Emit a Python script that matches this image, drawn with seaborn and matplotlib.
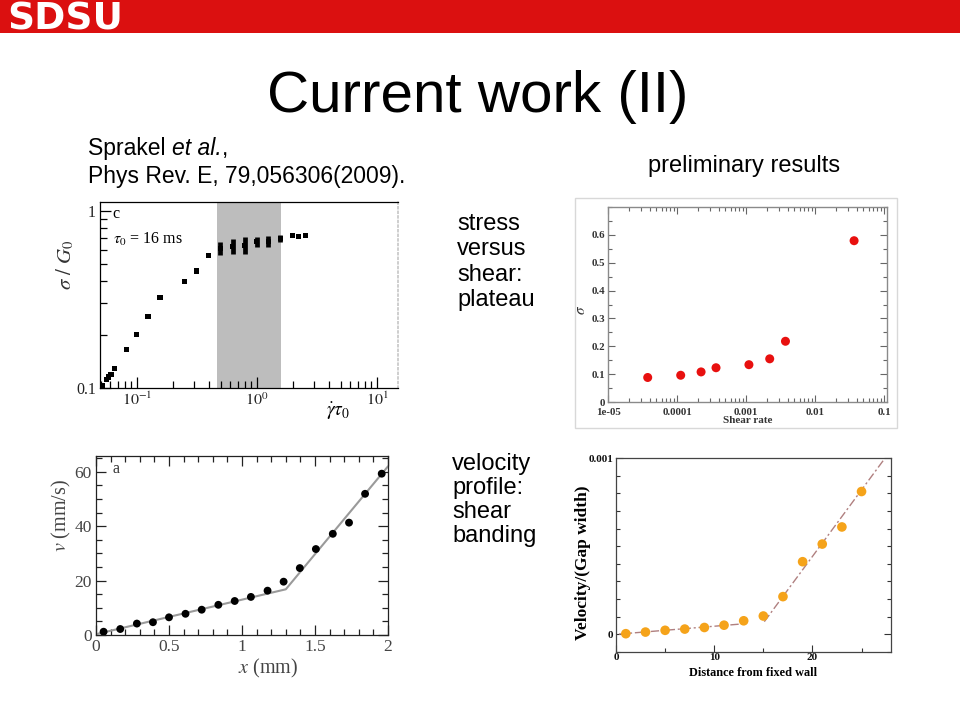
import numpy as np
import pandas as pd
import seaborn as sns
import matplotlib.pyplot as plt
from matplotlib.patches import Rectangle
from matplotlib.ticker import MultipleLocator, FixedLocator, FixedFormatter, FuncFormatter, LogLocator, NullFormatter

# -------------------------
# DATA
# -------------------------
# top-left: Sprakel et al. flow curve
rate_tau = [0.0517, 0.0562, 0.0585, 0.0611, 0.0656, 0.0826, 0.100, 0.124, 0.156, 0.251, 0.316, 0.396,
            0.498, 0.631, 0.794, 1.00, 1.25, 1.575, 1.98, 2.24, 2.53]
stress_g0 = [0.1026, 0.1115, 0.1154, 0.119, 0.1286, 0.165, 0.200, 0.252, 0.323, 0.398, 0.457, 0.558,
             0.612, 0.631, 0.637, 0.668, 0.673, 0.700, 0.722, 0.713, 0.725]
bar_rate = [0.498, 0.631, 0.794, 1.00, 1.25, 1.575]
bar_lo = [0.563, 0.573, 0.571, 0.628, 0.628, 0.667]
bar_hi = [0.662, 0.694, 0.710, 0.710, 0.722, 0.731]
band_lo, band_hi = 0.47, 1.6

# top-right: preliminary stress vs shear rate
shear_rate = [3.76e-5, 1.13e-4, 2.23e-4, 3.67e-4, 1.1e-3, 2.2e-3, 3.72e-3, 0.0367]
sigma = [0.088, 0.096, 0.108, 0.123, 0.134, 0.155, 0.218, 0.579]
sr_ticks = [1e-5, 1e-4, 1e-3, 1e-2, 1e-1]
sr_labels = ["1e-05", "0.0001", "0.001", "0.01", "0.1"]

# bottom-left: Sprakel et al. velocity profile
x_mm = [0.052, 0.166, 0.28, 0.39, 0.5, 0.613, 0.724, 0.838, 0.95, 1.061, 1.175, 1.285,
        1.396, 1.506, 1.622, 1.733, 1.843, 1.957]
v_mm = [1.2, 2.2, 4.2, 4.7, 6.5, 7.8, 9.3, 11.1, 12.5, 14.0, 16.3, 19.6,
        24.6, 31.6, 37.2, 41.3, 51.9, 59.3]
fit_x = [0, 1.3, 2.0]
fit_v = [0.3, 16.8, 62.0]

# bottom-right: preliminary velocity profile
dist = [1, 3, 5, 7, 9, 11, 13, 15, 17, 19, 21, 23, 25]
vel_gap = [3.8e-6, 1.3e-5, 2.3e-5, 3.0e-5, 3.9e-5, 5.2e-5, 7.7e-5, 1.04e-4, 2.14e-4, 4.12e-4,
           5.12e-4, 6.09e-4, 8.1e-4]
slow_x = [0.3, 12.8]
slow_v = [1.5e-6, 5.9e-5]
fast_x = [15.1, 27.4]
fast_v = [7.2e-5, 1.0e-3]

# -------------------------
# STYLE
# -------------------------
sns.set_theme(style="ticks")
plt.rcParams['font.family'] = ['Liberation Sans', 'DejaVu Sans']
plt.rcParams['mathtext.fontset'] = 'stix'
plt.rcParams['text.color'] = 'black'
plt.rcParams['axes.labelcolor'] = 'black'
plt.rcParams['xtick.color'] = 'black'
plt.rcParams['ytick.color'] = 'black'
SERIF = 'Liberation Serif'

fig = plt.figure(figsize=(9.6, 7.2), dpi=100)
fig.patch.set_facecolor('white')


def box(l, t, r, b):
    return [l / 960, 1 - b / 720, (r - l) / 960, (b - t) / 720]


def fx(x):
    return x / 960


def fy(y):
    return 1 - y / 720


def style_labels(ax, size, color='#222222', weight='normal'):
    for t in ax.get_xticklabels() + ax.get_yticklabels():
        t.set_fontfamily(SERIF)
        t.set_fontsize(size)
        t.set_color(color)
        t.set_fontweight(weight)


# -------------------------
# HEADER
# -------------------------
fig.add_artist(Rectangle((0, fy(33)), 1, 33 / 720, transform=fig.transFigure,
                         color='#db1010', lw=0))
fig.text(fx(7), fy(30), "SDSU", color='white', fontsize=27, fontweight='heavy',
         family='DejaVu Sans', va='baseline')
fig.text(fx(478), fy(112), "Current work (II)", fontsize=42, ha='center', va='baseline')

t1 = fig.text(fx(88), fy(155), "Sprakel ", fontsize=16.5, va='baseline')
fig.canvas.draw()
bb = t1.get_window_extent()
t2 = fig.text(bb.x1 / 960, fy(155), "et al.", fontsize=16.5, style='italic', va='baseline')
fig.canvas.draw()
fig.text(t2.get_window_extent().x1 / 960, fy(155), ",", fontsize=16.5, va='baseline')
fig.text(fx(88), fy(183), "Phys Rev. E, 79,056306(2009).", fontsize=16.5, va='baseline')

fig.text(fx(744), fy(172), "preliminary results", fontsize=17, ha='center', va='baseline')
fig.text(fx(457), fy(213), "stress\nversus\nshear:\nplateau", fontsize=17, va='top',
         linespacing=1.2)
fig.text(fx(452), fy(453), "velocity\nprofile:\nshear\nbanding", fontsize=17, va='top',
         linespacing=1.12)

# -------------------------
# TOP-LEFT: flow curve (Sprakel)
# -------------------------
ax1 = fig.add_axes(box(100, 202, 398, 388))
ax1.set_xscale('log')
ax1.set_yscale('log')
ax1.axvspan(band_lo, band_hi, color='#bdbdbd', lw=0, zorder=0)
sns.scatterplot(x=rate_tau, y=stress_g0, marker='s', s=14, color='black', edgecolor='none',
                ax=ax1, zorder=3)
ax1.vlines(bar_rate, bar_lo, bar_hi, color='black', lw=3.4, zorder=4)
ax1.set_xlim(0.0494, 15)
ax1.set_ylim(0.1, 1.12)
ax1.set_xticks([0.1, 1, 10])
ax1.set_xticklabels([r'$10^{-1}$', r'$10^{0}$', r'$10^{1}$'])
ax1.xaxis.set_minor_locator(LogLocator(base=10, subs=np.arange(2, 10)))
ax1.xaxis.set_minor_formatter(NullFormatter())
ax1.set_yticks([0.1, 1])
ax1.set_yticklabels(['0.1', '1'])
ax1.yaxis.set_minor_locator(LogLocator(base=10, subs=np.arange(2, 10)))
ax1.yaxis.set_minor_formatter(NullFormatter())
ax1.tick_params(which='both', direction='in', top=False, right=False, color='black', width=0.9)
ax1.tick_params(which='major', length=8, pad=3)
ax1.tick_params(which='minor', length=5)
style_labels(ax1, 11.5)
for s in ['left', 'bottom', 'top']:
    ax1.spines[s].set_color('black')
    ax1.spines[s].set_linewidth(0.9)
ax1.spines['right'].set_color('#c8c8c8')
ax1.spines['right'].set_linestyle(':')
ax1.set_xlabel(r'$\dot{\gamma}\tau_0$', fontsize=14)
ax1.xaxis.set_label_coords(0.8, -0.07)
ax1.set_ylabel(r'$\sigma\ /\ G_0$', fontsize=15, color='#333333')
ax1.yaxis.set_label_coords(-0.08, 0.66)
ax1.text(0.04, 0.914, 'c', transform=ax1.transAxes, family=SERIF, fontsize=11.5)
ax1.text(0.045, 0.774, r'$\tau_0$ = 16 ms', transform=ax1.transAxes, family=SERIF, fontsize=11.5)

# -------------------------
# TOP-RIGHT: preliminary stress vs shear rate
# -------------------------
fig.add_artist(Rectangle((fx(575), fy(428)), 322 / 960, 230 / 720, transform=fig.transFigure,
                         fill=False, edgecolor='#d8d8d8', lw=1))
ax2 = fig.add_axes(box(608, 207, 887, 402))
ax2.set_xscale('log')
sns.scatterplot(x=shear_rate, y=sigma, color='#e8100f', s=42, edgecolor='none', ax=ax2)
ax2.set_xlim(1e-5, 0.11)
ax2.set_ylim(0, 0.7)
ax2.set_xticks(sr_ticks)
ax2.set_xticklabels(sr_labels)
ax2.xaxis.set_minor_locator(LogLocator(base=10, subs=np.arange(2, 10)))
ax2.xaxis.set_minor_formatter(NullFormatter())
ax2.yaxis.set_major_locator(FixedLocator([0, 0.1, 0.2, 0.3, 0.4, 0.5, 0.6]))
ax2.yaxis.set_major_formatter(FixedFormatter(['0', '0.1', '0.2', '0.3', '0.4', '0.5', '0.6']))
ax2.yaxis.set_minor_locator(MultipleLocator(0.05))
ax2.tick_params(which='both', direction='in', top=True, right=True, color='#666666', width=0.8)
ax2.tick_params(which='major', length=5)
ax2.tick_params(which='minor', length=3)
ax2.tick_params(axis='x', pad=4)
ax2.tick_params(axis='y', pad=2)
style_labels(ax2, 7.8, color='#333333', weight='bold')
for s in ax2.spines.values():
    s.set_color('#8a8a8a')
    s.set_linewidth(1)
ax2.set_xlabel('Shear rate', fontsize=8, family=SERIF, fontweight='bold', color='#333333')
ax2.xaxis.set_label_coords(0.5, -0.07)
ax2.set_ylabel(r'$\sigma$', fontsize=11, color='#333333', rotation=90)
ax2.yaxis.set_label_coords(-0.07, 0.47)

# -------------------------
# BOTTOM-LEFT: velocity profile (Sprakel)
# -------------------------
ax3 = fig.add_axes(box(96, 456, 388, 635))
sns.lineplot(x=fit_x, y=fit_v, color='#9a9a9a', lw=1.5, ax=ax3, zorder=2)
sns.scatterplot(x=x_mm, y=v_mm, color='black', s=32, edgecolor='none', ax=ax3, zorder=3)
ax3.set_xlim(0, 2)
ax3.set_ylim(0, 65.8)
ax3.xaxis.set_major_locator(MultipleLocator(0.5))
ax3.xaxis.set_minor_locator(MultipleLocator(0.1))
ax3.xaxis.set_major_formatter(FuncFormatter(lambda v, p: '%g' % v))
ax3.yaxis.set_major_locator(MultipleLocator(20))
ax3.yaxis.set_minor_locator(MultipleLocator(5))
ax3.tick_params(which='both', direction='in', top=True, right=True, color='#222222', width=0.9)
ax3.tick_params(which='major', length=7, pad=3)
ax3.tick_params(which='minor', length=4)
style_labels(ax3, 12.5, color='#444444')
for s in ax3.spines.values():
    s.set_color('#222222')
    s.set_linewidth(0.9)
ax3.set_xlabel(r'$x$ (mm)', fontsize=14.5, family=SERIF, color='#444444')
ax3.xaxis.set_label_coords(0.59, -0.125)
ax3.set_ylabel(r'$v$ (mm/s)', fontsize=14.5, family=SERIF, color='#444444')
ax3.yaxis.set_label_coords(-0.08, 0.67)
ax3.text(0.055, 0.905, 'a', transform=ax3.transAxes, family=SERIF, fontsize=11.5, color='#333333')

# -------------------------
# BOTTOM-RIGHT: preliminary velocity profile
# -------------------------
ax4 = fig.add_axes(box(616, 458, 891, 652))
sns.lineplot(x=slow_x, y=slow_v, color='#b08080', lw=1, ax=ax4)
sns.lineplot(x=fast_x, y=fast_v, color='#b08080', lw=1, ax=ax4)
for ln in ax4.get_lines():
    ln.set_linestyle((0, (6, 2, 1.5, 2)))
sns.scatterplot(x=dist, y=vel_gap, color='#f5a31a', s=48, edgecolor='none', ax=ax4, zorder=3)
ax4.set_xlim(0, 28)
ax4.set_ylim(-1.0e-4, 1.0e-3)
ax4.xaxis.set_major_locator(MultipleLocator(10))
ax4.xaxis.set_minor_locator(MultipleLocator(5))
ax4.yaxis.set_major_locator(FixedLocator([0, 1e-3]))
ax4.yaxis.set_major_formatter(FixedFormatter(['0', '0.001']))
ax4.yaxis.set_minor_locator(MultipleLocator(1e-4))
ax4.tick_params(which='both', direction='in', top=False, right=True, color='#333333', width=0.8)
ax4.tick_params(which='major', length=5)
ax4.tick_params(which='minor', length=3)
ax4.tick_params(axis='x', pad=1)
ax4.tick_params(axis='y', pad=2)
style_labels(ax4, 8, color='#111111', weight='bold')
for s in ax4.spines.values():
    s.set_color('#444444')
    s.set_linewidth(0.9)
ax4.set_xlabel('Distance from fixed wall', fontsize=8.8, family=SERIF, fontweight='bold')
ax4.xaxis.set_label_coords(0.5, -0.078)
ax4.set_ylabel('Velocity/(Gap width)', fontsize=12.5, family=SERIF, fontweight='bold')
ax4.yaxis.set_label_coords(-0.092, 0.46)

plt.savefig("out.png", dpi=100)
